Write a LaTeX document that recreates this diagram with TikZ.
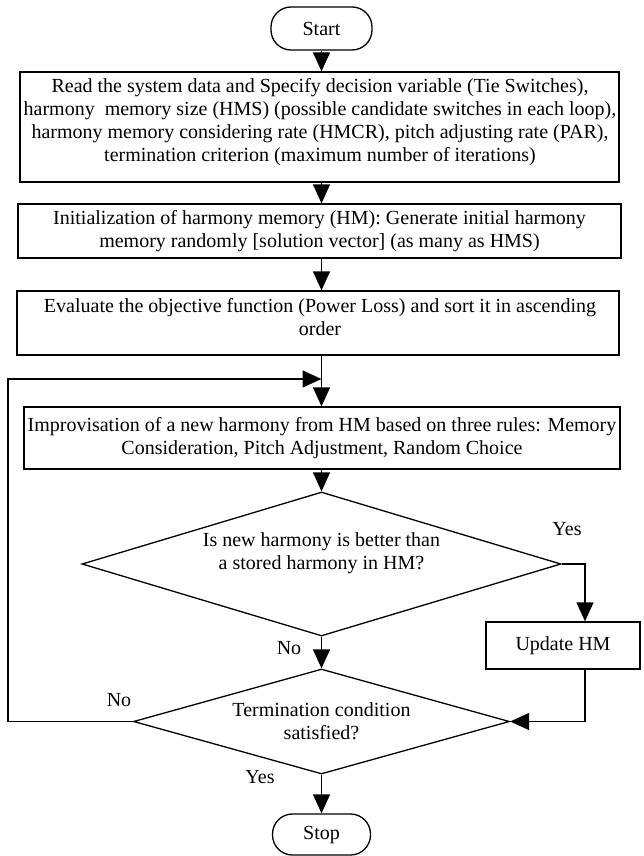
\documentclass[tikz,border=0pt]{standalone}
\usepackage{fontspec}
\setmainfont{Liberation Serif}
\usetikzlibrary{shapes.geometric,arrows.meta}
\begin{document}
\begin{tikzpicture}[x=1pt,y=-1pt,
  every node/.style={font=\fontsize{20}{23.2}\selectfont},
  box/.style={draw, line width=1.3pt, inner sep=0pt, align=center},
  term/.style={draw, line width=1.3pt, rounded corners=20pt, inner sep=0pt, minimum width=101pt, minimum height=43pt},
  dia/.style={draw, diamond, line width=1.3pt, inner sep=0pt},
  lbl/.style={inner sep=0pt, align=center},
  arr/.style={line width=1.3pt, -{Triangle[length=19pt,width=17pt]}},
  ln/.style={line width=1.3pt}
]
\useasboundingbox (0,0) rectangle (644,856);
\node[term] (start) at (321.5,28.5) {Start};
\node[box, minimum width=599pt, minimum height=110pt] (b1) at (319.5,127) {};
\node[lbl] (b1t) at (320,122) {Read the system data and Specify decision variable (Tie Switches),\\harmony\ \ memory size (HMS) (possible candidate switches in each loop),\\harmony memory considering rate (HMCR), pitch adjusting rate (PAR),\\termination criterion (maximum number of iterations)};
\node[box, minimum width=603pt, minimum height=54pt] (b2) at (319.5,231) {Initialization of harmony memory (HM): Generate initial harmony\\memory randomly [solution vector] (as many as HMS)};
\node[box, minimum width=602pt, minimum height=64pt] (b3) at (318,323) {};
\node[lbl] (b3t) at (320,317) {Evaluate the objective function (Power Loss) and sort it in ascending\\order};
\node[box, minimum width=596pt, minimum height=62pt] (b4) at (322,438) {Improvisation of a new harmony from HM based on three rules: Memory\\Consideration, Pitch Adjustment, Random Choice};
\node[dia, minimum width=479pt, minimum height=144pt] (d1) at (321.5,564) {};
\node[lbl] (d1t) at (321.5,553) {Is new harmony is better than\\a stored harmony in HM?};
\node[box, minimum width=154pt, minimum height=47pt] (upd) at (563,645.5) {Update HM};
\node[dia, minimum width=376pt, minimum height=105pt] (d2) at (321.5,721.5) {};
\node[lbl] (d2t) at (321.5,721.5) {Termination condition\\satisfied?};
\node[term, minimum width=98pt, minimum height=41pt] (stop) at (321.5,834.5) {Stop};
\coordinate (merge) at (321.5,379);
\coordinate (lc) at (8,721.5);
\node[lbl] (yes1) at (567,529) {Yes};
\node[lbl] (no1) at (289,648) {No};
\node[lbl] (no2) at (119,700) {No};
\node[lbl] (yes2) at (260,777) {Yes};
\draw[arr] (start.south) -- (start.south |- b1.north);
\draw[arr] (start.south |- b1.south) -- (start.south |- b2.north);
\draw[arr] (start.south |- b2.south) -- (start.south |- b3.north);
\draw[arr] (start.south |- b3.south) -- (start.south |- b4.north);
\draw[arr] (start.south |- b4.south) -- (d1.north);
\draw[arr] (d1.south) -- (d2.north);
\draw[arr] (d2.south) -- (stop.north);
\draw[arr] (d1.east) -| ([xshift=22pt]upd.north);
\draw[arr] ([xshift=22pt]upd.south) |- (d2.east);
\draw[arr] (d2.west) -- (lc) |- (merge);
\end{tikzpicture}
\end{document}
